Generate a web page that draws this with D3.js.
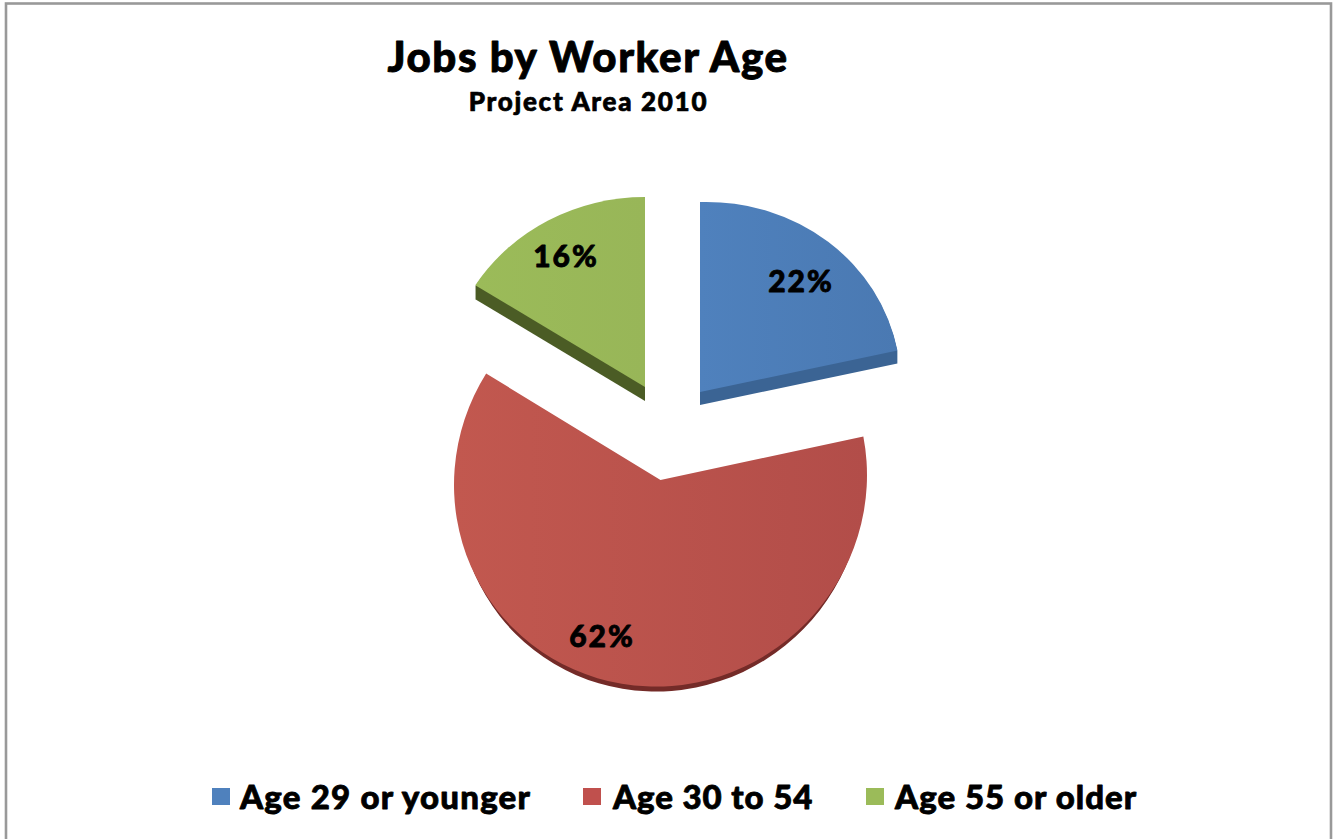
<!DOCTYPE html>
<html><head><meta charset="utf-8">
<script src="https://cdn.jsdelivr.net/npm/d3@7"></script>
<style>html,body{margin:0;padding:0;background:#fff}svg{display:block}text{font-family:Lato,"Open Sans",sans-serif;font-weight:900;fill:#000;stroke:#000;stroke-linejoin:round}</style>
</head><body><svg id="c" width="1333" height="839"></svg>
<script>
const categories=["Age 29 or younger","Age 30 to 54","Age 55 or older"];
const values=[22,62,16];
const colors=["#4f81bd","#c0504d","#9bbb59"];
const lightColors=["#4f81bd","#c2584f","#9bbb59"];
const shadeColors=["#4a79b2","#b24d49","#98b658"];
const darkColors=["#3b6494","#742b28","#4b5c25"];
const titleText="Jobs by Worker Age";
const subtitleText="Project Area 2010";

const svg=d3.select("#c");
svg.append("rect").attr("x",6).attr("y",3.5).attr("width",1325).attr("height",845).attr("fill","#fff").attr("stroke","#999").attr("stroke-width",2.6);

svg.append("text").attr("x",588).attr("y",72).attr("text-anchor","middle").attr("font-size",42).attr("letter-spacing",1.6).attr("stroke-width",0.9).text(titleText);
svg.append("text").attr("x",588.5).attr("y",111).attr("text-anchor","middle").attr("font-size",26).attr("letter-spacing",1.7).attr("stroke-width",0.7).text(subtitleText);

const pie=d3.pie().sort(null).value(d=>d);
const arcs=pie(values);
const geom=[
 {cx:700,cy:392,r:201,ky:0.945,skew:-0.03,depth:13,inset:0},
 {cx:660.5,cy:480,r:206.5,ky:1.0,skew:-0.024,depth:9,inset:4},
 {cx:645,cy:387,r:201,ky:0.945,skew:0,depth:14,inset:0}
];
const defs=svg.append("defs");
const grads=defs.selectAll("linearGradient").data(values).join("linearGradient")
 .attr("id",(d,i)=>"g"+i).attr("x1",0).attr("x2",1).attr("y1",0).attr("y2",0);
grads.append("stop").attr("offset",0).attr("stop-color",(d,i)=>lightColors[i]);
grads.append("stop").attr("offset",1).attr("stop-color",(d,i)=>shadeColors[i]);

const g=svg.selectAll("g.s").data(arcs).join("g").attr("class","s");
g.each(function(d,i){
 const p=geom[i];
 const sel=d3.select(this);
 const top=d3.arc().innerRadius(0).outerRadius(p.r);
 const low=d3.arc().innerRadius(0).outerRadius(p.r-p.inset);
 // side wall: sweep the dark face from the top face down to the full depth
 d3.range(1,p.depth+1).forEach(k=>{
  sel.append("path").attr("d",low(d)).attr("fill",darkColors[i]).attr("transform",`matrix(1,${p.skew},0,${p.ky},${p.cx},${p.cy+k})`);
 });
 sel.append("path").attr("d",top(d)).attr("fill",`url(#g${i})`).attr("transform",`matrix(1,${p.skew},0,${p.ky},${p.cx},${p.cy})`);
});

const labelPos=[[801,292],[602,647],[566,267]];
svg.selectAll("text.v").data(values).join("text").attr("class","v").attr("text-anchor","middle").attr("font-size",30).attr("letter-spacing",2).attr("stroke-width",0.8)
 .attr("x",(d,i)=>labelPos[i][0]).attr("y",(d,i)=>labelPos[i][1]).text(d=>d+"%");

const legendX=[212,583,866], textX=[240,613,895], legendSpacing=[1.2,0.9,1.0];
const lg=svg.selectAll("g.l").data(categories).join("g").attr("class","l");
lg.append("rect").attr("x",(d,i)=>legendX[i]).attr("y",788).attr("width",18).attr("height",17).attr("fill",(d,i)=>colors[i]);
lg.append("text").attr("x",(d,i)=>textX[i]).attr("y",809).attr("font-size",33).attr("letter-spacing",(d,i)=>legendSpacing[i]).attr("stroke-width",0.8).text(d=>d);
</script></body></html>
